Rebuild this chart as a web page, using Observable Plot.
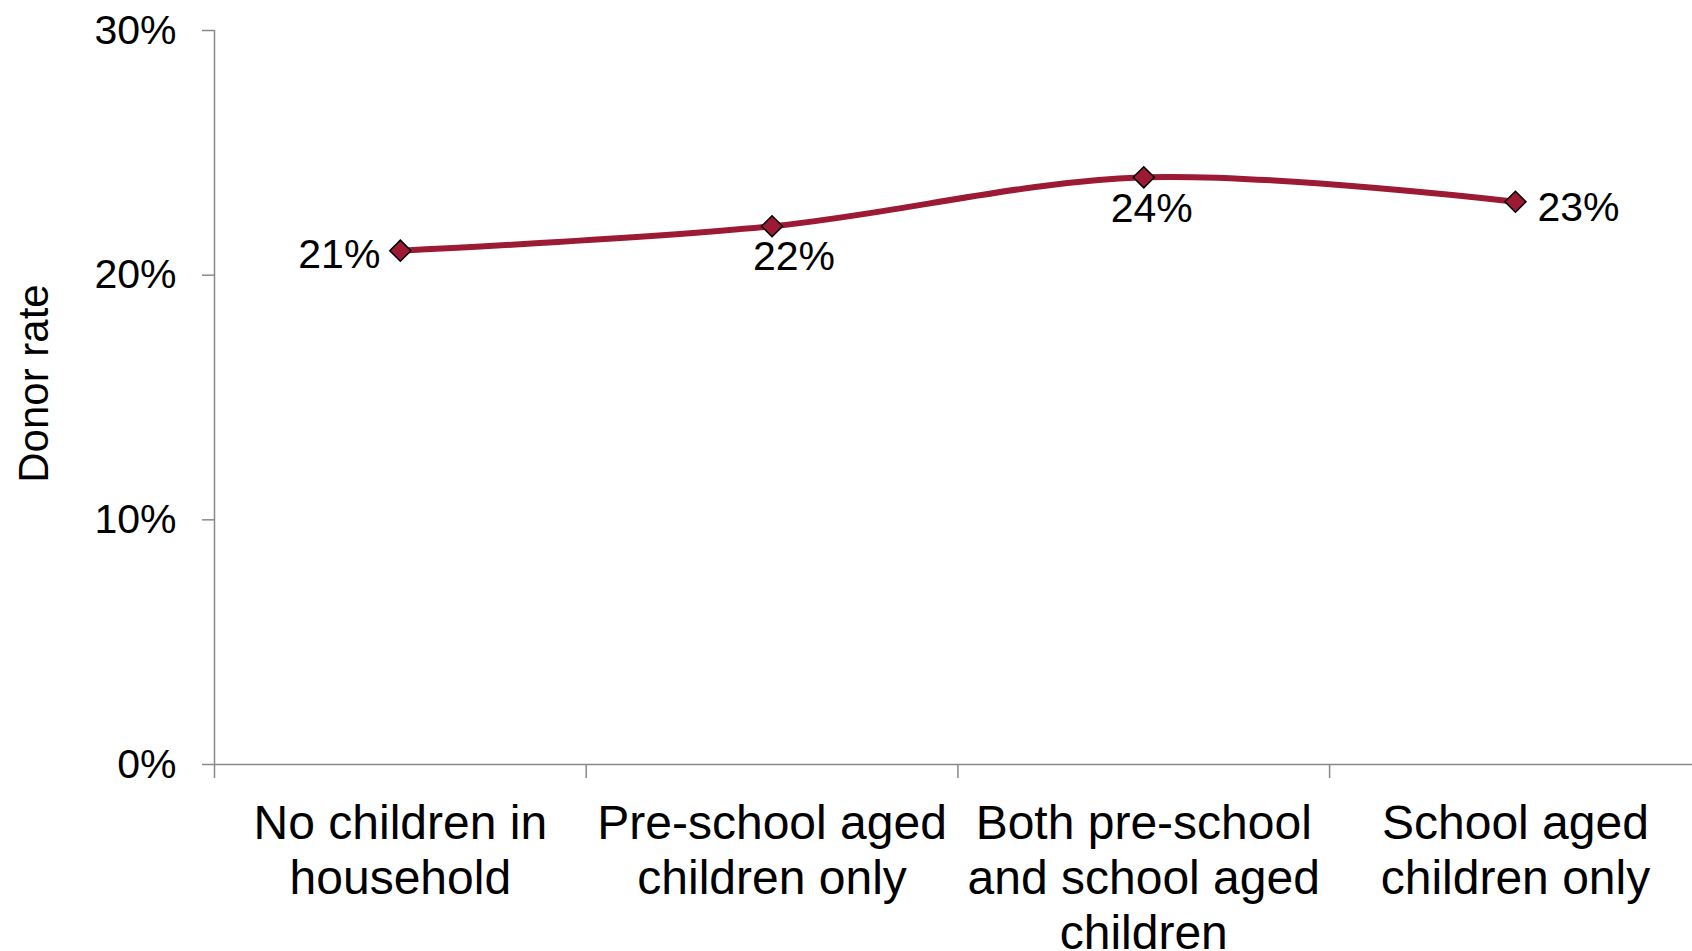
<!DOCTYPE html>
<html>
<head>
<meta charset="utf-8">
<script src="https://cdn.jsdelivr.net/npm/d3@7"></script>
<script src="https://cdn.jsdelivr.net/npm/@observablehq/plot@0.6"></script>
<style>
  html, body { margin: 0; padding: 0; background: #fff; overflow: hidden; }
</style>
</head>
<body>
<div id="chart"></div>
<script>
const categories = [
  "No children in\nhousehold",
  "Pre-school aged\nchildren only",
  "Both pre-school\nand school aged\nchildren",
  "School aged\nchildren only"
];
const donorRate = [21, 22, 24, 23];
const yTicks = [0, 10, 20, 30];
const yLabel = "Donor rate";

const data = categories.map((c, i) => ({i, c, v: donorRate[i], label: donorRate[i] + "%"}));
const boundaries = d3.range(categories.length + 1).map(k => k - 0.5);

const RED = "#9c1a33";
const GRAY = "#898989";

const chart = Plot.plot({
  width: 1692,
  height: 951,
  marginLeft: 214,
  marginRight: 0,
  marginTop: 30,
  marginBottom: 187,
  style: {fontFamily: "'Liberation Sans', Arial, sans-serif", background: "#fff"},
  x: {domain: [-0.5, categories.length - 0.5], range: [214, 1700.8], label: null},
  y: {domain: [0, 30], label: null},
  marks: [
    // axis lines
    Plot.ruleY([0], {stroke: GRAY, strokeWidth: 1.5}),
    Plot.ruleX([-0.5], {y1: 0, y2: 30, stroke: GRAY, strokeWidth: 1.5}),
    // y axis
    Plot.axisY({ticks: yTicks, tickSize: 12, tickPadding: 26, tickFormat: d => d + "%",
      stroke: GRAY, strokeWidth: 1.5, fill: "#000", fontSize: 41, label: null}),
    // x axis tick marks at category boundaries
    Plot.axisX({ticks: boundaries, tickSize: 14, stroke: GRAY, strokeWidth: 1.5,
      fill: "none", label: null}),
    // x axis category labels
    Plot.axisX({ticks: d3.range(categories.length), tickSize: 0, tickPadding: 35,
      tickFormat: i => categories[i], fill: "#000", fontSize: 48, lineHeight: 1.15, label: null}),
    // y axis title
    Plot.text([yLabel], {frameAnchor: "left", textAnchor: "middle", text: d => d, rotate: -90, dx: -180, dy: -14,
      fontSize: 42, fill: "#000"}),
    // series
    Plot.line(data, {x: "i", y: "v", curve: "cardinal", stroke: RED, strokeWidth: 6}),
    Plot.dot(data, {x: "i", y: "v", symbol: "diamond2", r: 9.5, fill: RED, stroke: "#000", strokeWidth: 1.5}),
    // data labels
    Plot.text(data.filter(d => d.i === 0), {x: "i", y: "v", text: "label", textAnchor: "end", dx: -20, dy: 4, fontSize: 41, fill: "#000"}),
    Plot.text(data.filter(d => d.i === 1), {x: "i", y: "v", text: "label", lineAnchor: "top", dx: 22, dy: 15, fontSize: 41, fill: "#000"}),
    Plot.text(data.filter(d => d.i === 2), {x: "i", y: "v", text: "label", lineAnchor: "top", dx: 8, dy: 16, fontSize: 41, fill: "#000"}),
    Plot.text(data.filter(d => d.i === 3), {x: "i", y: "v", text: "label", textAnchor: "start", dx: 22, dy: 6.5, fontSize: 41, fill: "#000"})
  ]
});
document.getElementById("chart").appendChild(chart);
</script>
</body>
</html>
